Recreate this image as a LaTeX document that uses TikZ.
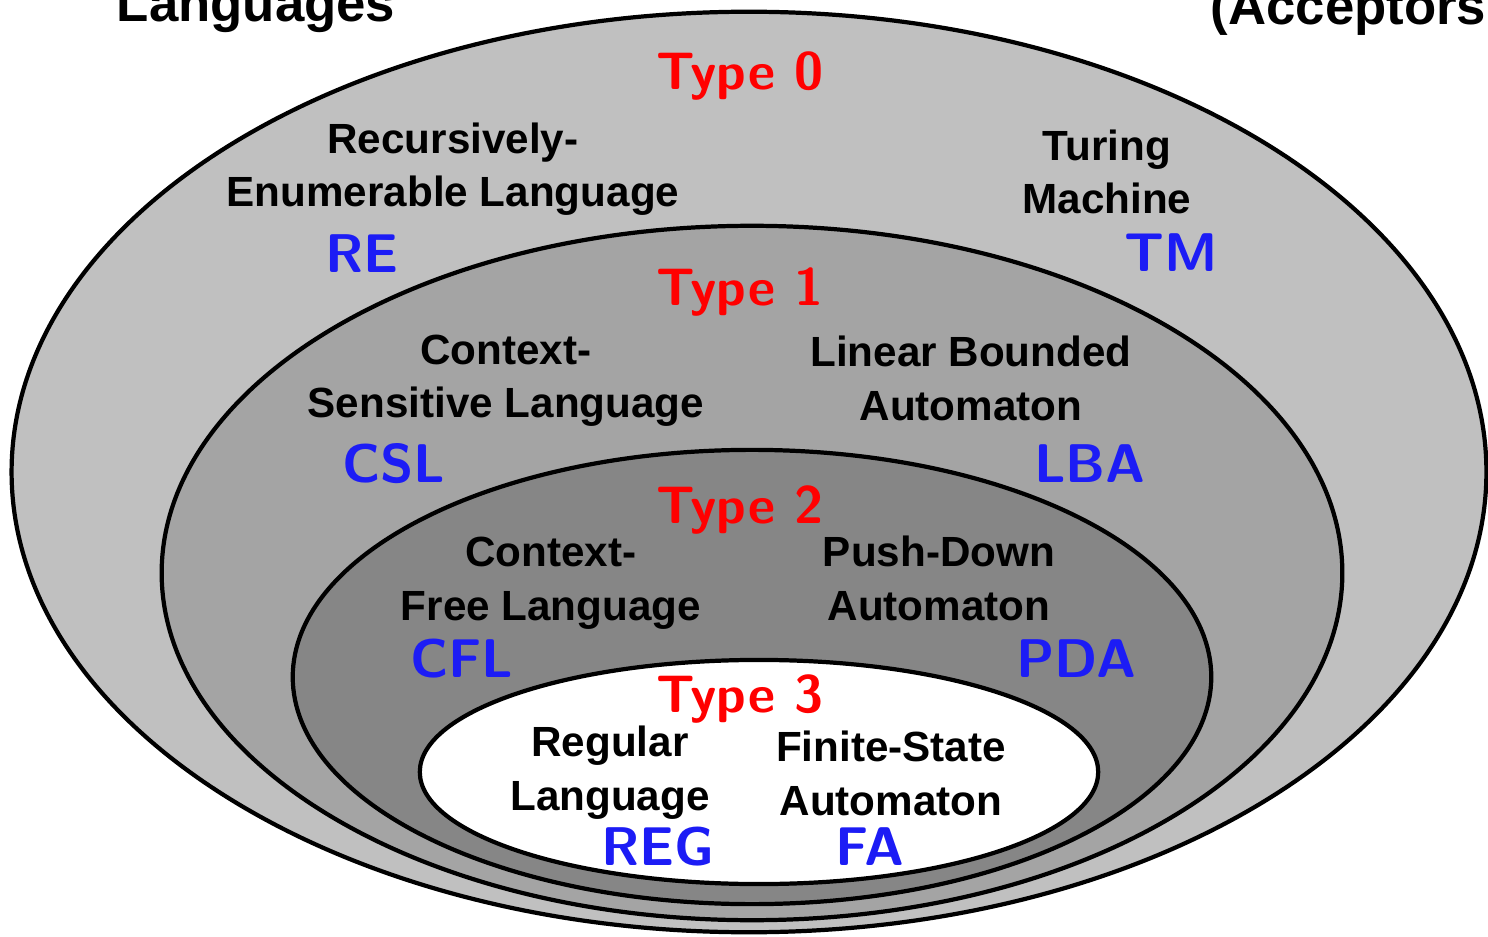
\documentclass[tikz,border=0pt]{standalone}
\usepackage{fontspec}
\newfontfamily\arialfont{Liberation Sans}
\definecolor{outergray}{RGB}{192,192,192}
\definecolor{midgray}{RGB}{164,164,164}
\definecolor{innergray}{RGB}{134,134,134}
\definecolor{tagblue}{RGB}{28,28,245}

\begin{document}
\begin{tikzpicture}[x=0.01cm,y=-0.01cm]
	\tikzstyle{level}=[draw=black,line width=1.2pt]
	\tikzstyle{lang}=[font=\arialfont\bfseries\fontsize{12}{15.3}\selectfont,align=center,anchor=base,inner sep=0pt]
	\tikzstyle{header}=[font=\arialfont\bfseries\fontsize{15}{18}\selectfont,anchor=base,inner sep=0pt]
	\tikzstyle{typelabel}=[font=\sffamily\bfseries\fontsize{15}{18}\selectfont,text=red,anchor=base,inner sep=0pt]
	\tikzstyle{tag}=[font=\sffamily\bfseries\fontsize{15.5}{18}\selectfont,text=tagblue,anchor=base,inner sep=0pt]

	\useasboundingbox (0,0) rectangle (1488,937);
	\clip (0,0) rectangle (1488,937);

	% nested classes
	\filldraw[level,fill=outergray] (749,472) ellipse [x radius=7.37cm, y radius=4.6cm];
	\filldraw[level,fill=midgray] (752,573) ellipse [x radius=5.9cm, y radius=3.47cm];
	\filldraw[level,fill=innergray] (752,677) ellipse [x radius=4.59cm, y radius=2.27cm];
	\filldraw[level,fill=white] (759,772) ellipse [x radius=3.39cm, y radius=1.12cm];

	% column heads
	\node[header] (languages) at (256,22) {Languages};
	\node[header,anchor=base west] (acceptors) at (1210,25) {(Acceptors};

	% type 0
	\node[typelabel] (type0) at (740,90) {Type 0};
	\node[lang] (re) at (453,207) {Recursively-\\Enumerable Language};
	\node[lang] (tm) at (1107,214) {Turing\\Machine};
	\node[tag] (retag) at (362,273) {RE};
	\node[tag] (tmtag) at (1171,272) {TM};

	% type 1
	\node[typelabel] (type1) at (740,306) {Type 1};
	\node[lang] (csl) at (506,418) {Context-\\Sensitive Language};
	\node[lang] (lba) at (971,420) {Linear Bounded\\Automaton};
	\node[tag] (csltag) at (394,482) {CSL};
	\node[tag] (lbatag) at (1090,482) {LBA};

	% type 2
	\node[typelabel] (type2) at (740,523) {Type 2};
	\node[lang] (cfl) at (551,620) {Context-\\Free Language};
	\node[lang] (pda) at (939,620) {Push-Down\\Automaton};
	\node[tag] (cfltag) at (462,677) {CFL};
	\node[tag] (pdatag) at (1076,677) {PDA};

	% type 3
	\node[typelabel] (type3) at (740,712) {Type 3};
	\node[lang] (reg) at (610,810) {Regular\\Language};
	\node[lang] (fsa) at (891,815) {Finite-State\\Automaton};
	\node[tag] (regtag) at (658,865) {REG};
	\node[tag] (fatag) at (870,865) {FA};
\end{tikzpicture}
\end{document}
